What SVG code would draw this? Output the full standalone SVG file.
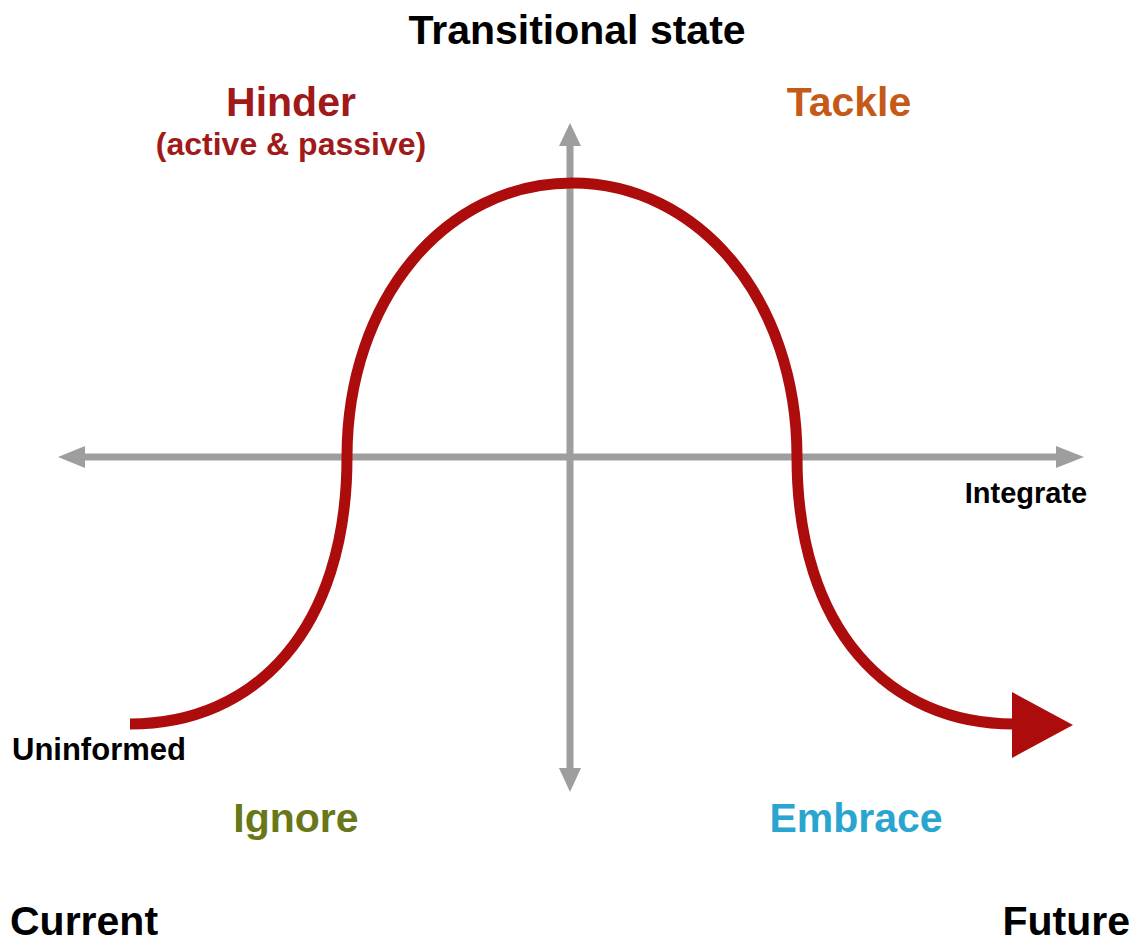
<svg xmlns="http://www.w3.org/2000/svg" width="1137" height="946" viewBox="0 0 1137 946">
  <style>
    text { font-family: "Liberation Sans", Arial, sans-serif; font-weight: bold; }
    .big { font-size: 41px; }
    .small { font-size: 29px; }
    .axis { stroke: #9e9e9e; stroke-width: 7; fill: none; }
    .axis-head { fill: #9e9e9e; }
    .curve { stroke: #ad0c0c; stroke-width: 11; fill: none; }
  </style>

  <rect width="1137" height="946" fill="#ffffff"/>

  <!-- axes -->
  <g id="connectors">
    <g id="h-axis">
      <line class="axis" x1="82" y1="457" x2="1060" y2="457"/>
      <polygon class="axis-head" points="58,457 85,446 85,468"/>
      <polygon class="axis-head" points="1084,457 1056,446 1056,468"/>
    </g>
    <g id="v-axis">
      <line class="axis" x1="570" y1="142" x2="570" y2="770"/>
      <polygon class="axis-head" points="570,123 559,146 581,146"/>
      <polygon class="axis-head" points="570,792 559,768 581,768"/>
    </g>
    <!-- change curve -->
    <g id="change-curve">
      <path class="curve" d="M130,724 C255,724 347,630 347,457 C347,300 445,183 572,183 C699,183 797,300 797,457 C797,630 889,724 1014,724"/>
      <polygon fill="#ad0c0c" points="1073,725 1012,692 1012,758"/>
    </g>
  </g>

  <g id="label-transitional"><text class="big" x="577" y="44" text-anchor="middle" fill="#000">Transitional state</text></g>
  <g id="label-hinder">
    <text class="big" x="291" y="116" text-anchor="middle" fill="#a11a1a">Hinder</text>
    <text class="small" x="291" y="155" text-anchor="middle" fill="#a11a1a" style="font-size:32px">(active &amp; passive)</text>
  </g>
  <g id="label-tackle"><text class="big" x="849" y="116" text-anchor="middle" fill="#c55a18">Tackle</text></g>
  <g id="label-integrate"><text class="small" x="1026" y="503" text-anchor="middle" fill="#000" style="font-size:29px">Integrate</text></g>
  <g id="label-uninformed"><text class="small" x="12" y="760" fill="#000" style="font-size:31px">Uninformed</text></g>
  <g id="label-ignore"><text class="big" x="296" y="832" text-anchor="middle" fill="#687818">Ignore</text></g>
  <g id="label-embrace"><text class="big" x="856" y="832" text-anchor="middle" fill="#2aa5cf">Embrace</text></g>
  <g id="label-current"><text class="big" x="10" y="935" fill="#000">Current</text></g>
  <g id="label-future"><text class="big" x="1130" y="935" text-anchor="end" fill="#000">Future</text></g>
</svg>
